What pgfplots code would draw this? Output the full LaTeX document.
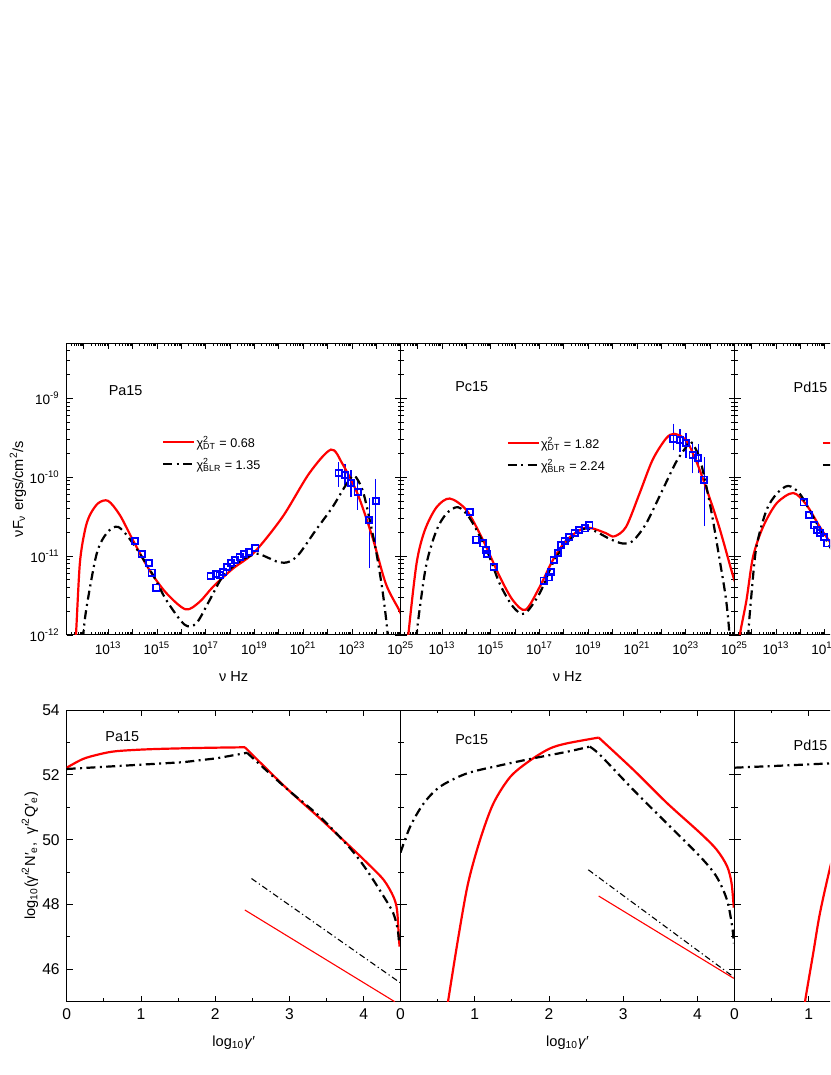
\documentclass[border=0pt]{standalone}
\usepackage{fontspec}
\setmainfont{Liberation Sans}
\usepackage{pgfplots}
\pgfplotsset{compat=1.18}
\definecolor{pblue}{RGB}{0,0,255}
\newcommand{\chisq}[2]{\makebox[40pt][l]{χ\rlap{\textsuperscript{2}}\textsubscript{#1} = #2}}
\tikzset{pname/.style={anchor=west, font=\fontsize{7.2}{8.5}\selectfont}}
\pgfplotsset{
 base/.style={scale only axis, width=167pt, anchor=south west, tick align=inside,
   major tick length=3pt, minor tick length=1.6pt, tick style={black,line width=0.4pt},
   axis line style={line width=0.5pt},
   label style={font=\fontsize{7.3}{8.5}\selectfont},
   /pgf/number format/assume math mode=true},
 sed/.style={base, height=145.9pt, xmin=11.3, xmax=25, ymin=-12, ymax=-8.301,
   tick label style={font=\fontsize{6.8}{8}\selectfont},
   xtick={12,13,14,15,16,17,18,19,20,21,22,23,24,25},
   xticklabels={{},10\textsuperscript{13},{},10\textsuperscript{15},{},10\textsuperscript{17},{},10\textsuperscript{19},{},10\textsuperscript{21},{},10\textsuperscript{23},{},10\textsuperscript{25}},
   ytick={-12,-11,-10,-9}, yticklabels={},
   minor xtick={11.301,11.477,11.602,11.699,11.778,11.845,11.903,11.954,
    12.301,12.477,12.602,12.699,12.778,12.845,12.903,12.954,
    13.301,13.477,13.602,13.699,13.778,13.845,13.903,13.954,
    14.301,14.477,14.602,14.699,14.778,14.845,14.903,14.954,
    15.301,15.477,15.602,15.699,15.778,15.845,15.903,15.954,
    16.301,16.477,16.602,16.699,16.778,16.845,16.903,16.954,
    17.301,17.477,17.602,17.699,17.778,17.845,17.903,17.954,
    18.301,18.477,18.602,18.699,18.778,18.845,18.903,18.954,
    19.301,19.477,19.602,19.699,19.778,19.845,19.903,19.954,
    20.301,20.477,20.602,20.699,20.778,20.845,20.903,20.954,
    21.301,21.477,21.602,21.699,21.778,21.845,21.903,21.954,
    22.301,22.477,22.602,22.699,22.778,22.845,22.903,22.954,
    23.301,23.477,23.602,23.699,23.778,23.845,23.903,23.954,
    24.301,24.477,24.602,24.699,24.778,24.845,24.903,24.954},
   minor ytick={-11.699,-11.523,-11.398,-11.301,-11.222,-11.155,-11.097,-11.046,
    -10.699,-10.523,-10.398,-10.301,-10.222,-10.155,-10.097,-10.046,
    -9.699,-9.523,-9.398,-9.301,-9.222,-9.155,-9.097,-9.046,
    -8.699,-8.523,-8.398},
   xlabel={ν Hz}, xlabel style={at={(axis description cs:0.5,-0.142)},anchor=center},
   legend style={draw=none, fill=none, inner sep=0pt, outer sep=0pt, anchor=north west,
     column sep=0.6pt, row sep=0pt,
     nodes={inner sep=0pt, outer sep=0pt, text height=5.5pt, text depth=5.5pt, font=\fontsize{6.3}{7}\selectfont},
     cells={anchor=center}},
   legend image code/.code={\draw[##1] (0pt,2.5pt) -- (15.5pt,2.5pt);}},
 ele/.style={base, height=145.85pt, xmin=0, xmax=4.5, ymin=45, ymax=54,
   tick label style={font=\fontsize{7.8}{9}\selectfont},
   xtick={0,1,2,3,4}, xticklabels={0,1,2,3,4}, minor xtick={0.5,1.5,2.5,3.5,4.5},
   ytick={46,48,50,52,54}, yticklabels={}, minor ytick={45,47,49,51,53},
   xlabel={log\textsubscript{10}\textit{γ}′},
   xlabel style={at={(axis description cs:0.5,-0.14)},anchor=center}},
 thickred/.style={red, line width=1.1pt},
 thickdd/.style={black, line width=1.1pt, dash pattern=on 4.5pt off 2.2pt on 1pt off 2.2pt},
 thinred/.style={red, line width=0.55pt},
 thindd/.style={black, line width=0.55pt, dash pattern=on 3pt off 1.5pt on 0.6pt off 1.5pt},
 dat/.style={color=pblue, draw=pblue, only marks, mark=square, mark size=1.55pt,
   mark options={solid, draw=pblue, fill=none, line width=0.9pt}, forget plot},
 daterr/.style={dat, error bars/.cd, y dir=both, y explicit,
   error bar style={solid, line width=0.65pt, draw=pblue}, error mark options={solid, draw=pblue, mark size=1.6pt, line width=0.65pt}},
}
\begin{document}
\begin{tikzpicture}
\useasboundingbox (0,0) rectangle (415pt,537.5pt);
\clip (0,0) rectangle (415pt,537.5pt);

% ---------------- top panel 1: Pa15 ----------------
\begin{axis}[sed, at={(33.35pt,220pt)},
  yticklabels={10\textsuperscript{-12},10\textsuperscript{-11},10\textsuperscript{-10},10\textsuperscript{-9}},
  ylabel={νF\textsubscript{ν} ergs/cm\textsuperscript{2}/s},
  ylabel style={at={(axis description cs:-0.146,0.5)},anchor=center},
  legend style={at={(axis description cs:0.286,0.681)}}]
\addplot[dat] coordinates {(14.09,-10.81) (14.37,-10.97) (14.67,-11.09) (14.78,-11.21) (14.98,-11.40)
 (17.20,-11.25) (17.41,-11.23) (17.57,-11.24) (17.73,-11.20) (17.88,-11.14) (18.05,-11.09)
 (18.21,-11.05) (18.39,-11.01) (18.59,-10.97) (18.77,-10.95) (19.04,-10.90)};
\addplot[daterr] table[x=x,y=y,y error plus=ep,y error minus=em,row sep=\\]{
x y ep em\\
22.45 -9.95 0.10 0.13\\
22.71 -9.97 0.10 0.09\\
22.96 -10.07 0.12 0.14\\
23.23 -10.19 0.13 0.18\\
23.71 -10.54 0.23 0.57\\
23.98 -10.30 0.24 0.54\\
};
\addplot[thickred, smooth] coordinates {(11.60,-12.3) (11.68,-12.0) (11.84,-11.09) (12.05,-10.67) (12.25,-10.48)
 (12.59,-10.33) (13.0,-10.30) (13.48,-10.48) (14.02,-10.80) (14.7,-11.18) (15.39,-11.47) (16.18,-11.675)
 (16.75,-11.58) (17.3,-11.39) (18.11,-11.16) (19.0,-10.95) (20.16,-10.50) (21.25,-9.95) (22.14,-9.65)
 (22.61,-9.83) (23.23,-10.21) (23.84,-10.76) (24.39,-11.35) (24.93,-11.68) (25.1,-11.8)};
\addlegendentry{\chisq{DT}{0.68}}
\addplot[thickdd, smooth] coordinates {(11.95,-12.3) (11.98,-12.0) (12.12,-11.64) (12.53,-10.97) (12.94,-10.71)
 (13.41,-10.63) (14.02,-10.84) (14.84,-11.24) (15.39,-11.56) (16.14,-11.87) (16.62,-11.85) (17.16,-11.56)
 (17.7,-11.26) (18.39,-11.07) (19.07,-10.97) (19.48,-11.01) (20.02,-11.08) (20.43,-11.07) (20.84,-10.97)
 (21.52,-10.67) (22.2,-10.38) (22.75,-10.10) (23.09,-9.98) (23.43,-10.16) (23.7,-10.50) (23.98,-10.92)
 (24.25,-11.43) (24.45,-11.94) (24.5,-12.3)};
\addlegendentry{\chisq{BLR}{1.35}}
\node[pname] at (axis description cs:0.105,0.839) {Pa15};
\end{axis}

% ---------------- top panel 2: Pc15 ----------------
\begin{axis}[sed, at={(200.25pt,220pt)},
  legend style={at={(axis description cs:0.318,0.6775)}}]
\addplot[dat] coordinates {(14.14,-10.44) (14.39,-10.79) (14.69,-10.84) (14.80,-10.92) (14.85,-10.97) (15.12,-11.14)
 (17.17,-11.31) (17.39,-11.27) (17.48,-11.20) (17.58,-11.05) (17.75,-10.96) (17.89,-10.86) (18.03,-10.81)
 (18.23,-10.76) (18.44,-10.71) (18.64,-10.67) (18.85,-10.65) (19.05,-10.61)};
\addplot[daterr] table[x=x,y=y,y error plus=ep,y error minus=em,row sep=\\]{
x y ep em\\
22.49 -9.51 0.15 0.11\\
22.76 -9.53 0.10 0.11\\
23.01 -9.57 0.09 0.14\\
23.28 -9.72 0.13 0.19\\
23.51 -9.76 0.14 0.15\\
23.76 -10.03 0.24 0.55\\
};
\addplot[thickred, smooth] coordinates {(11.55,-12.3) (11.62,-12.0) (11.96,-11.09) (12.30,-10.67) (12.78,-10.38)
 (13.32,-10.27) (14.01,-10.42) (14.69,-10.80) (15.37,-11.26) (15.91,-11.56) (16.43,-11.68) (17.01,-11.39)
 (17.55,-11.05) (18.10,-10.80) (18.78,-10.65) (19.19,-10.65) (19.73,-10.71) (20.07,-10.75) (20.55,-10.63)
 (21.1,-10.21) (21.64,-9.78) (22.19,-9.51) (22.53,-9.45) (23.01,-9.53) (23.41,-9.78) (23.82,-10.12)
 (24.37,-10.63) (24.91,-11.22) (25.05,-11.35)};
\addlegendentry{\chisq{DT}{1.82}}
\addplot[thickdd, smooth] coordinates {(11.92,-12.3) (11.96,-12.0) (12.10,-11.64) (12.37,-11.09) (12.78,-10.67)
 (13.19,-10.46) (13.66,-10.38) (14.14,-10.52) (14.83,-10.92) (15.37,-11.35) (15.91,-11.64) (16.39,-11.73)
 (17.01,-11.47) (17.55,-11.09) (18.10,-10.84) (18.78,-10.66) (19.19,-10.67) (19.87,-10.78) (20.41,-10.84)
 (20.82,-10.81) (21.37,-10.59) (22.05,-10.16) (22.6,-9.81) (23.01,-9.62) (23.21,-9.55) (23.55,-9.74)
 (23.82,-10.08) (24.09,-10.50) (24.37,-11.01) (24.64,-11.52) (24.78,-11.94) (24.82,-12.3)};
\addlegendentry{\chisq{BLR}{2.24}}
\node[pname] at (axis description cs:0.143,0.85) {Pc15};
\end{axis}

% ---------------- top panel 3: Pd15 (cut off) ----------------
\begin{axis}[sed, at={(367.25pt,220pt)},
  legend style={at={(axis description cs:0.261,0.6775)}}]
\addplot[dat] coordinates {(14.13,-10.32) (14.35,-10.48) (14.58,-10.61) (14.68,-10.67) (14.80,-10.71) (14.96,-10.76) (15.1,-10.84)};
\addplot[thickred, smooth] coordinates {(11.45,-12.3) (11.52,-12.0) (11.79,-11.56) (12.06,-11.01) (12.47,-10.63)
 (13.03,-10.33) (13.71,-10.20) (14.25,-10.35) (14.80,-10.63) (15.3,-10.86)};
\addlegendentry{\phantom{x}}
\addplot[thickdd, smooth] coordinates {(11.83,-12.3) (11.86,-12.0) (12.0,-11.47) (12.2,-10.88) (12.61,-10.42)
 (13.03,-10.21) (13.5,-10.11) (13.98,-10.21) (14.52,-10.50) (15.07,-10.80) (15.3,-10.93)};
\addlegendentry{\phantom{x}}
\node[pname] at (axis description cs:0.156,0.85) {Pd15};
\end{axis}

% ---------------- bottom panel 1: Pa15 ----------------
\begin{axis}[ele, at={(33.35pt,36.65pt)},
  yticklabels={46,48,50,52,54},
  ylabel={log\textsubscript{10}(γ′\textsuperscript{2}N′\textsubscript{e}, \ γ′\textsuperscript{2}Q′\textsubscript{e})},
  ylabel style={at={(axis description cs:-0.11,0.5)},anchor=center}]
\addplot[thickred, smooth] coordinates {(0.0,52.22) (0.22,52.49) (0.45,52.64) (0.67,52.73) (1.12,52.79) (1.80,52.83) (2.40,52.85)};
\addplot[thickred, smooth] coordinates {(2.40,52.85) (2.96,51.59) (3.41,50.66) (3.77,49.89) (4.04,49.30) (4.27,48.76) (4.40,48.25) (4.45,47.84) (4.475,47.0) (4.485,46.7)};
\addplot[thickdd] coordinates {(0.0,52.18) (0.90,52.30) (1.57,52.39) (2.02,52.51) (2.43,52.68)};
\addplot[thickdd, smooth] coordinates {(2.43,52.68) (2.96,51.58) (3.41,50.71) (3.82,49.73) (4.04,49.07) (4.27,48.25) (4.40,47.73) (4.46,47.22) (4.48,46.76)};
\addplot[thindd] coordinates {(2.49,48.80) (4.49,45.59)};
\addplot[thinred] coordinates {(2.40,47.83) (4.42,45.0)};
\node[pname] at (axis description cs:0.095,0.908) {Pa15};
\end{axis}

% ---------------- bottom panel 2: Pc15 ----------------
\begin{axis}[ele, at={(200.25pt,36.65pt)}]
\addplot[thickred, smooth] coordinates {(0.60,44.4) (0.64,45) (0.78,47.0) (0.91,48.65) (1.07,49.98) (1.25,51.11) (1.48,51.94) (1.75,52.45) (2.01,52.81) (2.24,52.97) (2.67,53.15)};
\addplot[thickred, smooth] coordinates {(2.67,53.15) (3.14,52.15) (3.59,51.13) (4.04,50.2) (4.26,49.69) (4.40,49.18) (4.46,48.66) (4.49,47.9)};
\addplot[thickdd, smooth] coordinates {(0.0,49.6) (0.13,50.40) (0.31,51.11) (0.53,51.63) (0.89,52.04) (1.34,52.29) (1.79,52.51) (2.24,52.71) (2.55,52.87)};
\addplot[thickdd, smooth] coordinates {(2.55,52.87) (2.69,52.61) (3.14,51.53) (3.59,50.5) (4.04,49.47) (4.26,48.85) (4.40,48.13) (4.47,47.3) (4.49,46.8)};
\addplot[thindd] coordinates {(2.53,49.07) (4.49,45.76)};
\addplot[thinred] coordinates {(2.67,48.26) (4.49,45.72)};
\node[pname] at (axis description cs:0.143,0.897) {Pc15};
\end{axis}

% ---------------- bottom panel 3: Pd15 (cut off) ----------------
\begin{axis}[ele, at={(367.25pt,36.65pt)}]
\addplot[thickdd] coordinates {(0.0,52.22) (0.6,52.28) (1.35,52.36)};
\addplot[thickred, smooth] coordinates {(0.93,44.5) (0.95,45) (1.06,46.49) (1.15,47.72) (1.29,49.16) (1.35,49.6)};
\node[pname] at (axis description cs:0.156,0.88) {Pd15};
\end{axis}
\end{tikzpicture}
\end{document}
